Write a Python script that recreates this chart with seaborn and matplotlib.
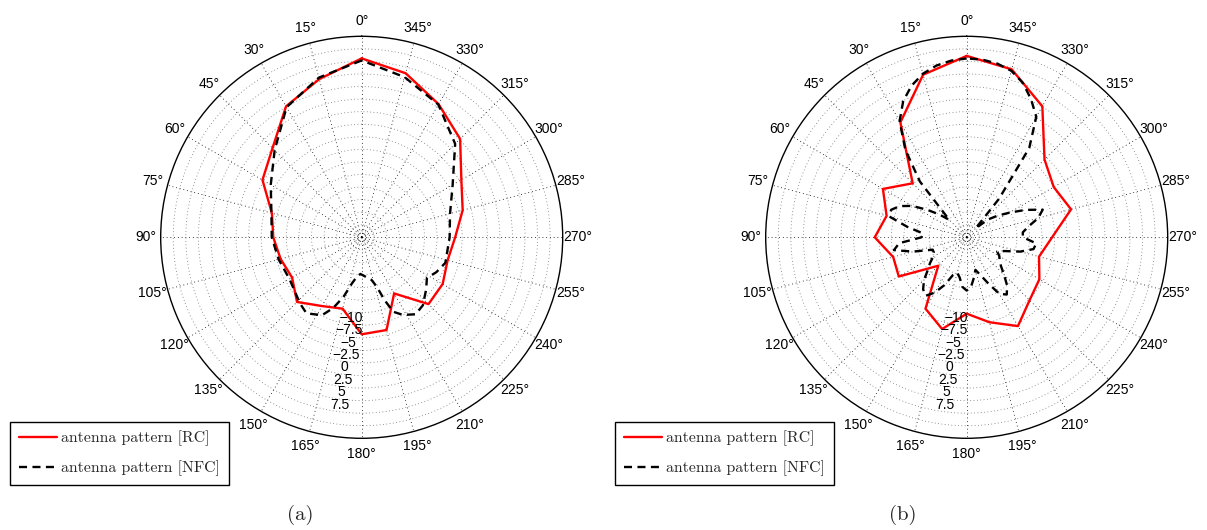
import numpy as np
import matplotlib
matplotlib.use("Agg")
import matplotlib.pyplot as plt
import seaborn as sns

# ---------------- data (dB values) ----------------
angles_rc = list(range(0, 360, 15))

rc_a = [8.1, 5.1, 2.6, -2.4, -4.7, -9.0, -9.9, -10.8, -11.5, -9.3, -11.7, -12.8,
        -8.2, -8.4, -14.6, -8.7, -8.9, -9.8, -8.9, -6.7, -4.6, 0.2, 3.1, 6.3]

angles_nfc_a = [0, 15, 30, 45, 60, 75, 90, 105, 120, 137, 144, 153, 158, 163, 168,
                173, 178, 193, 197, 200, 203, 208, 215, 222, 231, 238, 245, 253,
                270, 285, 300, 315, 330, 345]
nfc_a = [7.7, 5.4, 2.4, -3.0, -6.6, -8.9, -9.6, -10.4, -10.9, -9.5, -8.8, -10.1, -12.3,
         -15.1, -18.1, -19.6, -20.2, -18.8, -17.2, -14.2, -11.4, -10.0, -8.8, -9.3,
         -11.0, -12.2, -11.1, -10.1, -10.0, -9.3, -6.6, -1.2, 3.0, 5.5]

rc_b = [8.6, 6.0, -1.1, -12.3, -8.25, -11.0, -9.2, -12.35, -11.9, -19.5, -11.1, -8.6,
        -12.3, -10.0, -7.1, -9.8, -10.8, -12.6, -10.5, -6.0, -7.5, -5.6, 2.6, 7.1]

angles_nfc_b = list(range(0, 360, 5))
nfc_b = [8.1, 7.8, 7.2, 6.2, 4.6, 2.4, -0.8, -6.2, -13.0, -22.6,
         -20.5, -18.0, -15.0, -12.8, -11.5, -11.6, -15.5, -18.8, -18.5, -14.0,
         -12.8, -16.5, -20.3, -20.3, -19.8, -18.6, -17.4, -15.5, -14.0, -13.3,
         -14.8, -17.0, -19.5, -20.2, -19.4, -17.6, -16.9, -17.6, -19.3, -20.8,
         -19.5, -17.4, -14.5, -13.6, -15.0, -17.0, -18.6, -19.5, -20.0, -20.8,
         -19.5, -16.5, -14.0, -13.6, -16.3, -16.3, -15.0, -12.8, -11.4, -14.6,
         -17.7, -20.0, -22.0, -25.0, -17.5, -5.8, 0.2, 2.8, 5.2, 6.8,
         7.6, 8.0]

theta_tick_deg = list(range(0, 360, 15))
theta_labels = [f"{a}°" for a in theta_tick_deg]
r_tick_values = [-10, -7.5, -5, -2.5, 0, 2.5, 5, 7.5]
r_tick_labels = ["\u221210", "\u22127.5", "\u22125", "\u22122.5", "0", "2.5", "5", "7.5"]
legend_labels = ["antenna pattern [RC]", "antenna pattern [NFC]"]
captions = ["(a)", "(b)"]

R_MIN, R_MAX = -27.5, 12.5
ring_values = [-26.2] + list(np.arange(-25, 12.5, 2.5))

# ---------------- style ----------------
sns.set_theme(style="white")
plt.rcParams["font.family"] = ["Liberation Sans", "DejaVu Sans"]
plt.rcParams["axes.unicode_minus"] = True

fig = plt.figure(figsize=(12.07, 5.30), dpi=100)
W, H = 1207, 530
RAD = 201


def closed(ang, vals):
    ang = np.asarray(ang, dtype=float)
    vals = np.asarray(vals, dtype=float)
    return np.deg2rad(np.append(ang, ang[0] + 360)), np.append(vals, vals[0])


def make_axes(cx, cy):
    rect = [(cx - RAD) / W, (H - cy - RAD) / H, 2 * RAD / W, 2 * RAD / H]
    ax = fig.add_axes(rect, projection="polar")
    return ax


def style_axes(ax):
    ax.set_theta_zero_location("N")
    ax.set_theta_direction(1)
    ax.set_ylim(R_MIN, R_MAX)
    ax.set_xticks(np.deg2rad(theta_tick_deg))
    ax.set_xticklabels(theta_labels)
    ax.set_yticks(ring_values)
    ax.set_yticklabels([])
    ax.set_xlabel("")
    ax.set_ylabel("")
    ax.grid(True)
    ax.xaxis.grid(True, color="black", linestyle=(0, (1, 3.5)), linewidth=0.6)
    ax.yaxis.grid(True, color="0.45", linestyle=(0, (1, 3)), linewidth=0.6)
    ax.spines["polar"].set_color("black")
    ax.spines["polar"].set_linewidth(1.0)
    ax.tick_params(axis="x", direction="in", length=4, width=0.8, color="black",
                   pad=4, labelsize=10, labelcolor="black")
    ax.tick_params(axis="y", length=0)
    ax.set_facecolor("white")
    for v, lab in zip(r_tick_values, r_tick_labels):
        ax.text(np.deg2rad(173), v, lab, ha="center", va="bottom",
                fontsize=10, color="black")


def draw(ax, rc_ang, rc_vals, nfc_ang, nfc_vals, legend_x):
    t1, r1 = closed(rc_ang, rc_vals)
    t2, r2 = closed(nfc_ang, nfc_vals)
    sns.lineplot(x=t1, y=r1, ax=ax, sort=False, estimator=None, color="#ff0000",
                 linewidth=1.7, label=legend_labels[0], legend=False)
    sns.lineplot(x=t2, y=r2, ax=ax, sort=False, estimator=None, color="black",
                 linewidth=1.7, linestyle=(0, (3.4, 2.3)), label=legend_labels[1],
                 legend=False)
    style_axes(ax)
    handles = ax.get_lines()[:2]
    leg = ax.legend(handles, legend_labels, loc="lower left",
                    bbox_to_anchor=(legend_x / W, (H - 485) / H),
                    bbox_transform=fig.transFigure, frameon=True, fancybox=False,
                    edgecolor="black", framealpha=1, borderaxespad=0,
                    prop={"family": "cmr10", "size": 11.4}, handlelength=2.4,
                    handletextpad=0.3, labelspacing=0.9, borderpad=0.55)
    leg.get_frame().set_linewidth(1.0)


ax_a = make_axes(361.7, 237.3)
draw(ax_a, angles_rc, rc_a, angles_nfc_a, nfc_a, 10)

ax_b = make_axes(966.7, 237.3)
draw(ax_b, angles_rc, rc_b, angles_nfc_b, nfc_b, 615)

fig.text(300 / W, 1 - 515 / H, captions[0], ha="center", va="center",
         family="cmr10", fontsize=15)
fig.text(903 / W, 1 - 515 / H, captions[1], ha="center", va="center",
         family="cmr10", fontsize=15)

fig.savefig("out.png", dpi=100, facecolor="white")
